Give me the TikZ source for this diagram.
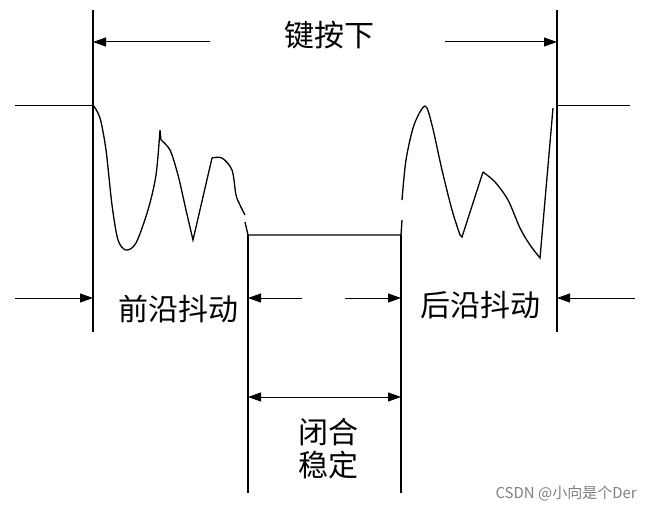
\documentclass[tikz,border=0pt]{standalone}
\usepackage{fontspec}
\setmainfont{Noto Sans CJK SC}
\usetikzlibrary{arrows.meta}
\begin{document}
\begin{tikzpicture}[x=1pt,y=-1pt,
  ln/.style={line width=1.3pt,black},
  arr/.style={line width=1pt,-{Triangle[length=13pt,width=9pt]}},
  lab/.style={font=\fontsize{30}{34}\selectfont,inner sep=0pt}]
\useasboundingbox (0,0) rectangle (650,511);
% vertical lines
\coordinate (a1) at (93,10); \coordinate (a2) at (93,332);
\coordinate (b1) at (557,10); \coordinate (b2) at (557,332);
\coordinate (c1) at (248,235); \coordinate (c2) at (248,493);
\coordinate (d1) at (401,235); \coordinate (d2) at (401,493);
\draw[ln] (a1)--(a2); \draw[ln] (b1)--(b2); \draw[ln] (c1)--(c2); \draw[ln] (d1)--(d2);
% top
\node[lab] (t) at (329,35) {键按下};
\coordinate (tl) at (210,42); \coordinate (tla) at (93,42);
\coordinate (tr) at (445,42); \coordinate (tra) at (557,42);
\draw[arr] (tl)--(tla); \draw[arr] (tr)--(tra);
% levels
\coordinate (l0) at (15,105); \coordinate (l1) at (93,105);
\coordinate (r0) at (557,105); \coordinate (r1) at (630,105);
\draw[line width=1pt] (l0)--(l1); \draw[line width=1pt] (r0)--(r1);
% waveforms
\draw[line width=1.3pt] plot[smooth,tension=0.5] coordinates{(93,105)(100,118)(106,150)(112,205)(118,240)(126,250)(136,243)(148,210)(156,175)(160,130)}
 -- (161,140) plot[smooth,tension=0.5] coordinates{(161,140)(170,150)(178,175)(186,210)(193,240)}
 -- (212,158) plot[smooth,tension=0.5] coordinates{(212,158)(222,158)(232,170)(236,195)(240,205)(245,215)};
\draw[line width=1.3pt] (245,222)--(248,235)--(401,235)--(402,220);
\draw[line width=1.3pt] plot[smooth,tension=0.5] coordinates{(402,200)(406,160)(414,125)(425,106)(432,125)(442,170)(452,210)(460,235)}
 -- (462,237) -- (483,172) plot[smooth,tension=0.5] coordinates{(483,172)(495,182)(508,200)(520,228)(530,245)(540,258)} -- (553,108);
% middle arrows
\coordinate (m0) at (15,298); \coordinate (m1) at (93,298);
\coordinate (n0) at (635,298); \coordinate (n1) at (557,298);
\coordinate (p0) at (302,298); \coordinate (p1) at (248,298);
\coordinate (q0) at (345,298); \coordinate (q1) at (401,298);
\draw[arr] (m0)--(m1); \draw[arr] (n0)--(n1); \draw[arr] (p0)--(p1); \draw[arr] (q0)--(q1);
\node[lab] (f) at (178,309) {前沿抖动};
\node[lab] (h) at (480,305) {后沿抖动};
% closed
\coordinate (s0) at (248,397); \coordinate (s1) at (401,397);
\draw[line width=1pt,{Triangle[length=13pt,width=9pt]}-{Triangle[length=13pt,width=9pt]}] (s0)--(s1);
\node[lab] (b) at (328,432) {闭合};
\node[lab] (w) at (328,465) {稳定};
\node[font=\fontsize{15}{17}\selectfont,text=gray,inner sep=0pt,anchor=east] (wm) at (637,493) {CSDN @小向是个Der};
\end{tikzpicture}
\end{document}
